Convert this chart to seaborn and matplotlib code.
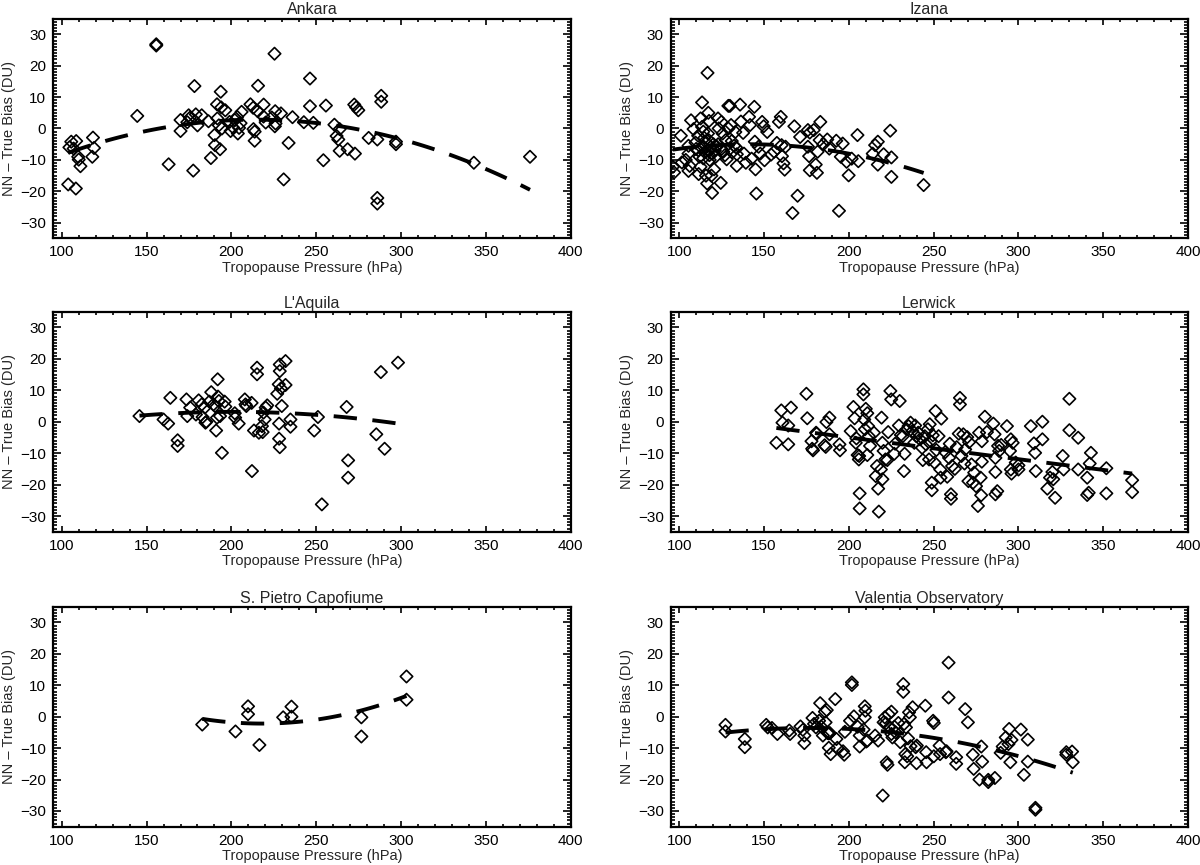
import numpy as np
import pandas as pd
import matplotlib
matplotlib.use("Agg")
import matplotlib.pyplot as plt
from matplotlib.ticker import MultipleLocator
import seaborn as sns

# ---------------- data ----------------
stations = ["Ankara", "Izana", "L'Aquila", "Lerwick",
            "S. Pietro Capofiume", "Valentia Observatory"]

ankara_p = [103.8, 108.3, 104.5, 105.6, 108.5, 107.0, 110.0, 109.7, 111.0, 118.4,
            118.0, 119.0, 144.5, 155.7, 155.7, 163.0, 170.0, 170.0, 174.8, 174.0,
            175.5, 178.2, 177.5, 179.0, 180.0, 182.5, 187.9, 186.5, 190.3, 190.0,
            191.5, 193.7, 194.0, 196.4, 193.3, 194.4, 192.6, 191.7, 198.9, 199.5,
            201.0, 202.0, 203.8, 204.5, 206.0, 205.4, 203.4, 211.2, 212.8, 213.0,
            213.7, 213.7, 215.5, 215.7, 219.0, 218.9, 220.2, 223.8, 225.4, 225.8,
            226.0, 225.6, 229.2, 230.8, 233.7, 236.0, 242.7, 246.3, 246.3, 248.3,
            254.2, 255.7, 260.7, 262.0, 263.0, 263.8, 263.8, 268.5, 272.4, 273.5,
            272.8, 274.8, 280.9, 286.0, 286.0, 286.0, 288.3, 288.3, 297.0, 297.0,
            342.9, 376.0]
ankara_b = [-17.8, -19.1, -6.0, -4.2, -4.0, -6.4, -9.9, -9.0, -12.0, -2.9,
            -9.0, -6.2, 4.0, 26.8, 26.4, -11.4, 2.7, -0.8, 4.2, 2.0,
            3.4, 13.5, -13.4, 4.5, 1.0, 4.2, -9.4, 2.3, -5.3, -2.1,
            7.7, 11.7, 6.7, 5.8, -6.6, 0.0, 1.0, 3.2, 2.1, -0.8,
            0.3, 2.7, -1.6, 0.2, 5.3, 1.7, 3.7, 7.7, 6.6, -0.2,
            -1.0, -3.9, 5.5, 13.6, 7.6, 3.8, 1.9, 3.5, 23.8, 5.5,
            1.6, 0.7, 4.8, -16.2, -4.6, 3.6, 2.0, 15.9, 7.1, 1.8,
            -10.1, 7.3, 1.2, -2.4, -3.5, -0.2, -7.1, -6.6, 7.6, 6.7,
            -8.0, 5.8, -3.0, -3.5, -22.1, -23.9, 10.4, 8.5, -5.0, -4.2,
            -10.9, -9.0]

izana_p = [96.3, 97.0, 101.0, 101.6, 103.9, 105.5, 105.5, 106.2, 105.5, 107.0,
           108.5, 109.6, 111.2, 111.2, 112.0, 111.5, 112.6, 113.5, 112.6, 113.5,
           114.2, 114.4, 114.2, 115.8, 116.5, 116.7, 117.2, 117.6, 117.0, 117.4,
           117.4, 118.0, 119.0, 119.4, 120.6, 121.5, 122.2, 122.9, 123.3, 124.5,
           124.9, 125.6, 126.0, 127.4, 128.0, 129.0, 129.9, 129.0, 130.6, 131.3,
           132.4, 133.1, 134.0, 134.0, 135.9, 136.4, 137.7, 138.2, 139.3, 141.2,
           141.8, 142.7, 144.3, 144.6, 145.0, 145.5, 146.8, 147.8, 148.9, 149.8,
           150.3, 151.9, 154.2, 156.0, 157.6, 158.8, 159.9, 160.4, 160.6, 161.5,
           162.2, 162.7, 166.8, 167.9, 169.8, 171.3, 175.9, 177.0, 175.9, 176.6,
           177.0, 179.3, 180.5, 181.2, 181.6, 182.8, 183.2, 185.0, 187.3, 188.5,
           192.6, 194.2, 195.3, 196.4, 198.7, 199.9, 201.7, 205.1, 205.6, 214.1,
           215.5, 217.1, 217.1, 220.5, 224.4, 225.1, 225.1, 244.1,
           113.0, 115.0, 116.0, 118.5, 119.5, 121.0, 123.0, 125.0, 127.0, 131.0,
           110.0, 114.8, 117.8, 120.2, 133.5]
izana_b = [-12.2, -14.0, -2.3, -10.8, -10.0, -8.0, -5.5, -11.9, -13.5, 2.6,
           -0.2, -4.5, -2.3, -6.9, -9.0, -14.5, -12.2, 8.3, 3.2, 0.5,
           -1.0, -5.8, -9.5, -15.0, -17.5, 17.7, 5.0, 2.4, -1.6, -3.7,
           -6.9, -10.0, -15.0, -20.5, -13.0, -9.0, -5.8, 3.2, 0.0, -17.3,
           2.1, -1.6, -7.4, -3.7, -9.8, 7.2, 7.2, 0.0, 1.1, -7.6,
           -5.5, -1.1, -11.9, -8.2, 7.6, 2.2, -1.4, -8.0, -10.9, 3.7,
           1.1, -9.6, 6.9, -4.2, -13.0, -20.7, -5.8, -8.0, 2.1, 0.7,
           -10.1, -1.1, -8.3, -7.4, -4.6, 2.1, 3.7, -5.3, -8.8, -11.1,
           -13.1, -5.8, -26.9, 0.7, -21.4, -2.7, -0.5, -1.3, -5.8, -8.8,
           -13.3, -0.5, -11.5, -14.1, -7.4, -3.7, 2.1, -5.0, -3.5, -6.4,
           -3.9, -26.2, -9.0, -4.8, -10.6, -14.9, -9.6, -2.1, -10.4, -8.0,
           -5.3, -4.2, -11.5, -8.2, -0.7, -9.2, -15.4, -18.0,
           -6.0, -7.5, -4.5, -6.0, -8.0, -7.0, -5.0, -6.5, -8.5, -4.0,
           -6.5, -3.0, -8.5, -5.0, -6.0]

laquila_p = [145.8, 160.0, 162.7, 164.0, 168.3, 168.3, 173.5, 174.0, 175.7, 179.1,
             180.7, 182.5, 183.0, 184.3, 184.7, 185.2, 187.0, 188.1, 189.4, 190.3,
             191.0, 191.5, 191.9, 192.1, 192.6, 193.3, 194.4, 196.0, 196.4, 202.0,
             202.2, 204.3, 207.9, 208.3, 208.8, 211.9, 212.1, 213.3, 215.1, 215.1,
             216.2, 218.0, 218.4, 218.9, 219.6, 220.2, 221.1, 227.0, 227.9, 228.5,
             228.5, 228.1, 228.1, 228.5, 229.2, 229.7, 231.9, 231.9, 234.8, 234.8,
             248.8, 251.0, 253.3, 267.9, 268.8, 268.8, 285.4, 288.1, 290.3, 298.2]
laquila_b = [1.8, 0.7, -0.6, 7.6, -5.9, -7.7, 7.1, 1.8, 4.5, 2.3,
             6.8, 5.5, 1.5, 4.5, -0.3, 0.0, 6.4, 9.4, 5.5, 5.0,
             -2.8, 1.3, 13.5, 8.0, 6.6, 1.8, -9.9, 6.4, 4.8, 2.7,
             1.3, -0.6, 7.1, 5.5, 5.0, 6.0, -15.7, -2.8, 17.2, 15.1,
             -3.5, -1.4, -3.3, 2.9, 0.7, 4.5, 5.2, 8.9, 11.9, 18.2,
             16.1, -0.6, -5.4, -8.1, 10.6, 5.0, 19.3, 11.7, 0.7, -1.6,
             -2.8, 1.5, -26.3, 4.7, -12.3, -17.8, -4.0, 15.8, -8.6, 18.8]

lerwick_p = [157.3, 160.2, 160.9, 164.3, 164.3, 165.9, 175.0, 175.5, 178.0, 178.4,
             178.9, 180.7, 181.1, 185.7, 186.4, 186.8, 188.6, 188.6, 194.5, 194.8,
             201.1, 202.7, 203.4, 204.1, 204.5, 205.2, 205.9, 206.1, 206.4, 206.4,
             208.6, 208.6, 209.1, 209.5, 210.0, 210.9, 211.4, 211.8, 212.5, 210.9,
             214.8, 215.9, 216.6, 217.3, 217.7, 218.9, 219.3, 219.8, 219.8, 220.5,
             221.6, 222.7, 223.2, 224.5, 225.0, 226.8, 227.3, 230.0, 229.5, 230.7,
             231.8, 232.5, 232.9, 234.1, 235.2, 236.4, 237.5, 238.6, 239.1, 239.8,
             240.9, 242.0, 243.2, 243.6, 244.8, 245.5, 246.6, 247.3, 247.7, 248.2,
             248.9, 248.9, 249.5, 250.5, 251.1, 251.6, 252.9, 253.9, 254.1, 254.5,
             256.8, 258.0, 259.1, 259.5, 260.2, 260.2, 260.9, 262.5, 263.6, 264.8,
             265.5, 265.5, 266.4, 267.5, 268.2, 268.6, 269.8, 270.5, 270.9, 272.3,
             273.2, 273.9, 275.0, 276.1, 276.8, 277.7, 278.0, 278.4, 278.4, 280.2,
             281.4, 285.2, 285.9, 286.4, 286.4, 286.4, 287.5, 288.0, 288.6, 289.8,
             293.2, 295.0, 295.5, 295.5, 295.9, 296.6, 298.4, 300.0, 300.0, 307.3,
             309.1, 309.8, 310.2, 314.1, 314.1, 317.0, 318.6, 320.0, 320.5, 321.6,
             326.1, 326.6, 330.0, 330.0, 335.2, 335.2, 340.5, 340.5, 341.4, 342.0,
             342.7, 351.8, 351.8, 367.0, 367.0]
lerwick_b = [-6.7, 3.6, -0.3, -1.2, -7.2, 4.5, 8.9, 1.1, -6.2, -8.6,
             -9.1, -3.5, -3.8, -7.5, -8.0, -0.1, 1.3, -4.0, -7.2, -9.1,
             -3.0, 4.7, 1.1, -6.7, -5.3, -10.6, -12.0, -10.9, -22.8, -27.6,
             10.3, 8.7, 0.7, -2.4, 4.1, 2.7, -1.4, -4.6, -7.7, -10.6,
             -3.5, -17.3, -14.1, -21.3, -28.6, -15.2, 1.3, -6.7, -18.3, -9.3,
             -12.0, -12.2, -3.3, 9.8, 7.1, -10.2, -7.0, 6.6, -1.2, -4.2,
             -4.6, -15.7, -10.2, -2.4, -1.4, -0.3, -3.0, -6.7, -1.2, -4.6,
             -3.5, -5.6, -8.3, -12.2, -4.6, -7.2, -2.4, -12.0, -0.8, -6.2,
             -19.4, -21.8, -4.3, -13.0, 3.4, -9.0, -4.6, -15.2, -17.8, 1.0,
             -9.7, -17.5, -11.5, -7.0, -23.1, -24.5, -14.1, -15.0, -8.1, -3.8,
             7.6, 5.5, -10.9, -4.0, -13.3, -8.8, -4.9, -18.9, -6.5, -13.6,
             -19.4, -16.2, -20.5, -26.8, -3.5, -17.8, -23.4, -6.2, -12.7, 1.6,
             -3.3, -0.6, -4.0, -11.5, -16.0, -23.1, -22.1, -7.7, -9.3, -7.4,
             -1.4, -9.3, -5.6, -15.2, -16.5, -6.7, -13.0, -13.9, -15.2, -1.4,
             -6.9, -9.9, -15.7, 0.0, -5.6, -21.3, -17.8, -16.0, -18.3, -24.2,
             -10.9, -15.2, 7.3, -2.7, -5.1, -15.2, -17.8, -23.3, -22.6, -13.3,
             -9.9, -14.8, -22.8, -18.6, -22.4]

spc_p = [182.8, 202.4, 209.8, 209.8, 216.5, 230.5, 235.4, 235.4, 276.6, 276.6,
         303.2, 303.2]
spc_b = [-2.5, -4.7, 3.3, 0.8, -9.0, -0.2, 3.2, 0.0, -0.2, -6.3,
         12.8, 5.4]

valentia_p = [127.3, 127.3, 138.7, 138.7, 151.3, 152.2, 154.7, 157.9, 164.9, 165.4,
              171.5, 172.9, 173.8, 173.8, 178.6, 179.5, 180.6, 182.5, 183.1, 183.6,
              184.7, 185.9, 186.3, 187.0, 187.5, 188.2, 188.2, 188.8, 189.3, 192.0,
              192.7, 193.2, 196.6, 197.3, 197.7, 200.7, 201.8, 201.8, 203.0, 205.2,
              206.4, 206.4, 208.7, 209.4, 209.4, 209.8, 210.3, 211.0, 215.5, 217.3,
              220.0, 220.5, 221.2, 221.9, 222.3, 222.8, 223.5, 223.9, 225.1, 225.1,
              225.7, 226.9, 227.6, 229.2, 230.3, 232.1, 232.1, 232.6, 233.0, 233.3,
              233.7, 234.4, 234.9, 235.5, 236.0, 236.4, 237.6, 239.4, 239.9, 240.1,
              245.1, 245.6, 245.8, 249.7, 250.1, 250.1, 253.5, 253.8, 257.2, 257.6,
              258.8, 258.8, 263.3, 263.3, 268.6, 270.2, 273.1, 273.6, 277.0, 278.1,
              278.6, 282.2, 282.2, 286.1, 289.5, 290.7, 292.5, 294.1, 294.5, 295.2,
              295.9, 301.4, 303.2, 305.5, 305.5, 310.0, 310.0, 328.2, 328.2, 331.6,
              332.0]
valentia_b = [-2.6, -4.7, -7.1, -9.7, -2.6, -3.4, -3.6, -5.5, -4.4, -5.5,
              -3.1, -4.2, -6.0, -8.4, -0.4, -2.3, -3.4, -1.3, 4.3, -3.1,
              -6.0, 1.6, -1.8, 2.1, -5.2, -5.3, -9.9, -5.2, -11.9, 5.6,
              -7.1, -9.9, -11.0, -12.1, -4.8, -1.3, 10.9, 10.1, 0.1, -3.2,
              -6.0, -9.5, -4.1, 3.3, -0.2, 1.9, -7.9, -7.6, -6.0, -7.6,
              -25.1, -1.8, -0.2, -2.1, -14.5, -15.3, 0.8, -3.4, 1.6, -5.5,
              -6.6, -3.2, -5.0, -2.0, -8.1, 10.4, 7.9, -2.3, -14.5, -11.9,
              -3.4, -12.6, -6.9, 1.4, -0.2, -9.4, 3.0, -9.7, -14.8, -9.2,
              3.5, -11.3, -14.5, -1.3, -2.0, -12.6, -9.2, -11.9, -11.3, -11.0,
              17.2, 6.1, -12.9, -15.0, 2.4, -1.8, -12.1, -16.6, -20.0, -9.5,
              -14.3, -20.1, -20.8, -19.5, -11.5, -9.5, -6.6, -8.7, -3.9, -14.5,
              -7.4, -4.1, -18.5, -7.3, -14.3, -29.0, -29.6, -11.3, -12.1, -11.1,
              -14.5]

pressures = [ankara_p, izana_p, laquila_p, lerwick_p, spc_p, valentia_p]
biases = [ankara_b, izana_b, laquila_b, lerwick_b, spc_b, valentia_b]

x_label = "Tropopause Pressure (hPa)"
y_label = "NN \u2013 True Bias (DU)"
x_ticks = [100, 150, 200, 250, 300, 350, 400]
y_ticks = [-30, -20, -10, 0, 10, 20, 30]

# ---------------- style ----------------
sns.set_theme(style="ticks")
plt.rcParams["font.family"] = ["Liberation Sans", "DejaVu Sans"]
plt.rcParams["axes.linewidth"] = 1.6

fig = plt.figure(figsize=(12, 8.65), dpi=100)
lefts = [0.0444, 0.5589]
bottoms = [0.7243, 0.3853, 0.0443]
w, h = 0.4312, 0.2543

for i, name in enumerate(stations):
    r, c = divmod(i, 2)
    ax = fig.add_axes([lefts[c], bottoms[r], w, h])
    df = pd.DataFrame({"p": pressures[i], "b": biases[i]})
    sns.scatterplot(data=df, x="p", y="b", marker="D", s=40,
                    facecolor="none", edgecolor="black", linewidth=1.2,
                    ax=ax, zorder=3)
    sns.regplot(data=df, x="p", y="b", order=2, ci=None, scatter=False,
                line_kws=dict(color="black", lw=2.8, ls=(0, (6, 4)),
                              solid_capstyle="butt"),
                ax=ax)
    ax.set_xlim(95, 400)
    ax.set_ylim(-35, 35)
    ax.set_xticks(x_ticks)
    ax.set_yticks(y_ticks)
    ax.xaxis.set_minor_locator(MultipleLocator(10))
    ax.yaxis.set_minor_locator(MultipleLocator(1))
    ax.tick_params(which="both", direction="in", top=True, right=True,
                   labelsize=11, colors="black", width=1.2, pad=5)
    ax.tick_params(axis="y", which="major", length=6)
    ax.tick_params(axis="y", which="minor", length=3.2)
    ax.tick_params(axis="x", which="major", length=4)
    ax.tick_params(axis="x", which="minor", length=2.5)
    for sp in ax.spines.values():
        sp.set_visible(True)
        sp.set_color("black")
    ax.set_title(name, fontsize=11.5, pad=3)
    ax.set_xlabel(x_label, fontsize=10.5, labelpad=1)
    ax.set_ylabel(y_label, fontsize=10.5, labelpad=3)

fig.savefig("out.png", dpi=100)
